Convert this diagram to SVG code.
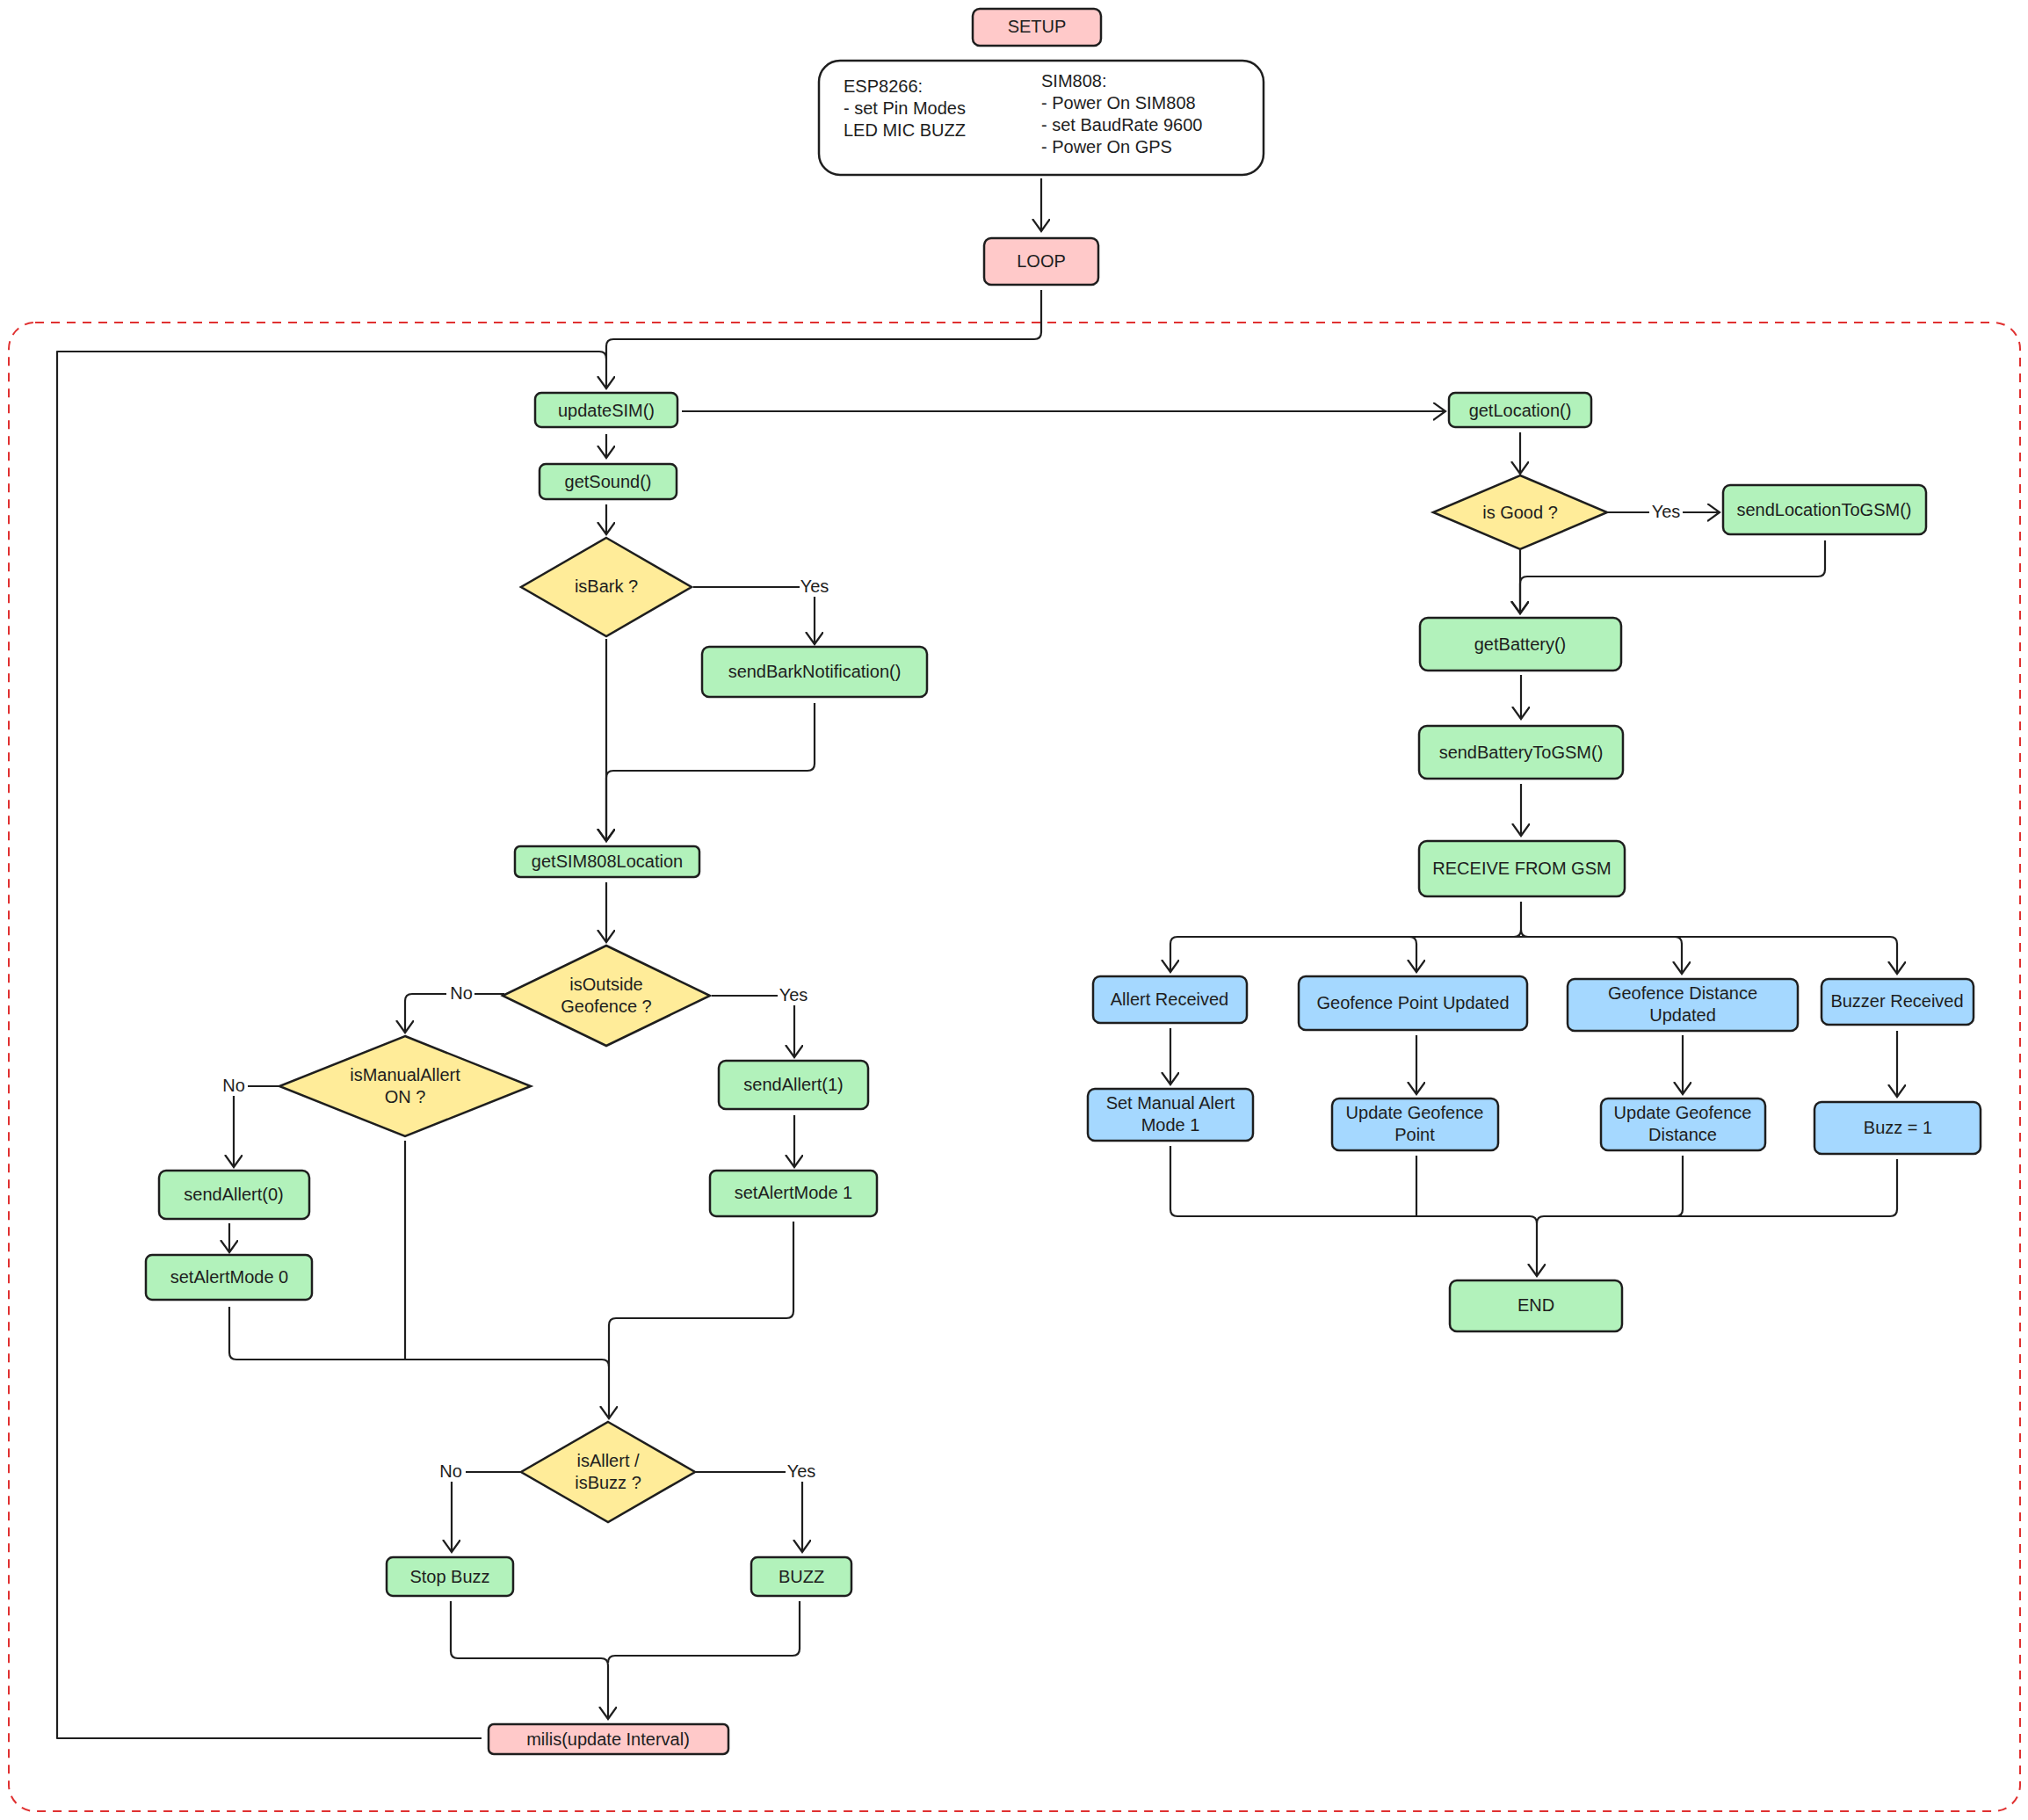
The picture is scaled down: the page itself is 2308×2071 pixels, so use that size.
<svg xmlns="http://www.w3.org/2000/svg" width="2308" height="2071" viewBox="0 0 2308 2071">
<style>
text{font-family:"Liberation Sans",Arial,sans-serif;font-size:20px;fill:#1e1e1e}
.n{stroke:#1e1e1e;stroke-width:2.5}
.pk{fill:#ffc9c9}.gr{fill:#b2f2bb}.yl{fill:#ffec99}.bl{fill:#a5d8ff}.wh{fill:#fff}
.c{fill:none;stroke:#1e1e1e;stroke-width:2.2;stroke-linejoin:round}
.lb{font-size:18px}
</style>
<defs>
<marker id="a" markerUnits="userSpaceOnUse" markerWidth="30" markerHeight="30" refX="14" refY="10" orient="auto">
<path d="M0,0 L14,10 L0,20" fill="none" stroke="#1e1e1e" stroke-width="2.2"/>
</marker>
</defs>
<rect x="10" y="367" width="2289" height="1694" rx="30" fill="none" stroke="#e03131" stroke-width="2" stroke-dasharray="10 8"/>
<g id="connectors">
<path class="c" d="M1185,203 V263" marker-end="url(#a)"/>
<path class="c" d="M1185,330 V378 Q1185,386 1177,386 H698 Q690,386 690,394 V442" marker-end="url(#a)"/>
<path class="c" d="M548,1978 H65 V400 H682 Q690,400 690,408"/>
<path class="c" d="M776,468 H1645" marker-end="url(#a)"/>
<path class="c" d="M690,494 V521" marker-end="url(#a)"/>
<path class="c" d="M690,574 V608" marker-end="url(#a)"/>
<path class="c" d="M789,668 H927 V733" marker-end="url(#a)"/>
<path class="c" d="M927,800 V869 Q927,877 919,877 H698 Q690,877 690,885 V957" marker-end="url(#a)"/>
<path class="c" d="M690,727 V957" marker-end="url(#a)"/>
<path class="c" d="M690,1004 V1072" marker-end="url(#a)"/>
<path class="c" d="M574,1131 H469 Q461,1131 461,1139 V1175" marker-end="url(#a)"/>
<path class="c" d="M810,1133 H904 V1203" marker-end="url(#a)"/>
<path class="c" d="M318,1236 H266 V1328" marker-end="url(#a)"/>
<path class="c" d="M261,1392 V1425" marker-end="url(#a)"/>
<path class="c" d="M904,1269 V1328" marker-end="url(#a)"/>
<path class="c" d="M903,1390 V1492 Q903,1500 895,1500 H701 Q693,1500 693,1508 V1614" marker-end="url(#a)"/>
<path class="c" d="M261,1487 V1539 Q261,1547 269,1547 H685 Q693,1547 693,1555"/>
<path class="c" d="M461,1298 V1547"/>
<path class="c" d="M593,1675 H514 V1766" marker-end="url(#a)"/>
<path class="c" d="M792,1675 H913 V1766" marker-end="url(#a)"/>
<path class="c" d="M513,1822 V1879 Q513,1887 521,1887 H684 Q692,1887 692,1895 V1956" marker-end="url(#a)"/>
<path class="c" d="M910,1822 V1876 Q910,1884 902,1884 H700 Q692,1884 692,1892"/>
<path class="c" d="M1730,492 V539" marker-end="url(#a)"/>
<path class="c" d="M1830,583 H1957" marker-end="url(#a)"/>
<path class="c" d="M2077,615 V648 Q2077,656 2069,656 H1738 Q1730,656 1730,664 V698" marker-end="url(#a)"/>
<path class="c" d="M1730,626 V698" marker-end="url(#a)"/>
<path class="c" d="M1731,768 V818" marker-end="url(#a)"/>
<path class="c" d="M1731,892 V951" marker-end="url(#a)"/>
<path class="c" d="M1731,1026 V1058 Q1731,1066 1723,1066 H1340 Q1332,1066 1332,1074 V1106" marker-end="url(#a)"/>
<path class="c" d="M1731,1058 Q1731,1066 1739,1066 H1604 Q1612,1066 1612,1074 V1106" marker-end="url(#a)"/>
<path class="c" d="M1731,1066 H1906 Q1914,1066 1914,1074 V1108" marker-end="url(#a)"/>
<path class="c" d="M1906,1066 H2151 Q2159,1066 2159,1074 V1108" marker-end="url(#a)"/>
<path class="c" d="M1332,1170 V1234" marker-end="url(#a)"/>
<path class="c" d="M1612,1178 V1245" marker-end="url(#a)"/>
<path class="c" d="M1915,1178 V1245" marker-end="url(#a)"/>
<path class="c" d="M2159,1173 V1248" marker-end="url(#a)"/>
<path class="c" d="M1332,1304 V1376 Q1332,1384 1340,1384 H1741 Q1749,1384 1749,1392 V1452" marker-end="url(#a)"/>
<path class="c" d="M1612,1315 V1384"/>
<path class="c" d="M1915,1315 V1376 Q1915,1384 1907,1384 H1757 Q1749,1384 1749,1392"/>
<path class="c" d="M2159,1319 V1376 Q2159,1384 2151,1384 H1900"/>
<g class="lb" text-anchor="middle">
<rect x="910" y="657" width="34" height="22" fill="#fff"/><text x="927" y="674">Yes</text>
<rect x="508" y="1120" width="32" height="22" fill="#fff"/><text x="525" y="1137">No</text>
<rect x="885" y="1122" width="36" height="22" fill="#fff"/><text x="903" y="1139">Yes</text>
<rect x="250" y="1225" width="32" height="22" fill="#fff"/><text x="266" y="1242">No</text>
<rect x="496" y="1664" width="34" height="22" fill="#fff"/><text x="513" y="1681">No</text>
<rect x="894" y="1664" width="36" height="22" fill="#fff"/><text x="912" y="1681">Yes</text>
<rect x="1877" y="572" width="38" height="22" fill="#fff"/><text x="1896" y="589">Yes</text>
</g>
</g>
<g id="setup"><rect class="n pk" x="1107" y="10" width="146" height="42" rx="8"/><text x="1180" y="37" text-anchor="middle">SETUP</text></g>
<g id="setupbox"><rect class="n wh" x="932" y="69" width="506" height="130" rx="24"/>
<text x="960" y="105">ESP8266:</text><text x="960" y="130">- set Pin Modes</text><text x="960" y="155">LED MIC BUZZ</text>
<text x="1185" y="99">SIM808:</text><text x="1185" y="124">- Power On SIM808</text><text x="1185" y="149">- set BaudRate 9600</text><text x="1185" y="174">- Power On GPS</text></g>
<g id="loop"><rect class="n pk" x="1120" y="271" width="130" height="53" rx="8"/><text x="1185" y="304" text-anchor="middle">LOOP</text></g>
<g text-anchor="middle">
<g id="updateSIM"><rect class="n gr" x="609" y="447" width="162" height="39" rx="7"/><text x="690" y="474">updateSIM()</text></g>
<g id="getSound"><rect class="n gr" x="614" y="528" width="156" height="40" rx="7"/><text x="692" y="555">getSound()</text></g>
<g id="isBark"><path class="n yl" d="M690,612 L787,668 L690,724 L593,668 Z"/><text x="690" y="674">isBark ?</text></g>
<g id="sendBark"><rect class="n gr" x="799" y="736" width="256" height="57" rx="8"/><text x="927" y="771">sendBarkNotification()</text></g>
<g id="getSIM808"><rect class="n gr" x="586" y="963" width="210" height="35" rx="6"/><text x="691" y="987">getSIM808Location</text></g>
<g id="isOutside"><path class="n yl" d="M690,1076 L808,1133 L690,1190 L572,1133 Z"/><text x="690" y="1127">isOutside</text><text x="690" y="1152">Geofence ?</text></g>
<g id="isManual"><path class="n yl" d="M461,1179 L604,1236 L461,1293 L318,1236 Z"/><text x="461" y="1230">isManualAllert</text><text x="461" y="1255">ON ?</text></g>
<g id="sendAllert0"><rect class="n gr" x="181" y="1332" width="171" height="55" rx="8"/><text x="266" y="1366">sendAllert(0)</text></g>
<g id="setAlertMode0"><rect class="n gr" x="166" y="1428" width="189" height="51" rx="7"/><text x="261" y="1460">setAlertMode 0</text></g>
<g id="sendAllert1"><rect class="n gr" x="818" y="1207" width="170" height="55" rx="8"/><text x="903" y="1241">sendAllert(1)</text></g>
<g id="setAlertMode1"><rect class="n gr" x="808" y="1332" width="190" height="52" rx="7"/><text x="903" y="1364">setAlertMode 1</text></g>
<g id="isAllert"><path class="n yl" d="M692,1618 L791,1675 L692,1732 L593,1675 Z"/><text x="692" y="1669">isAllert /</text><text x="692" y="1694">isBuzz ?</text></g>
<g id="stopBuzz"><rect class="n gr" x="440" y="1772" width="144" height="44" rx="7"/><text x="512" y="1801">Stop Buzz</text></g>
<g id="buzz"><rect class="n gr" x="855" y="1772" width="114" height="44" rx="7"/><text x="912" y="1801">BUZZ</text></g>
<g id="milis"><rect class="n pk" x="556" y="1962" width="273" height="34" rx="6"/><text x="692" y="1986">milis(update Interval)</text></g>
<g id="getLocation"><rect class="n gr" x="1649" y="447" width="162" height="39" rx="7"/><text x="1730" y="474">getLocation()</text></g>
<g id="isGood"><path class="n yl" d="M1730,541 L1829,583 L1730,625 L1631,583 Z"/><text x="1730" y="590">is Good ?</text></g>
<g id="sendLocation"><rect class="n gr" x="1961" y="552" width="231" height="56" rx="8"/><text x="2076" y="587">sendLocationToGSM()</text></g>
<g id="getBattery"><rect class="n gr" x="1616" y="703" width="229" height="60" rx="9"/><text x="1730" y="740">getBattery()</text></g>
<g id="sendBattery"><rect class="n gr" x="1615" y="826" width="232" height="60" rx="9"/><text x="1731" y="863">sendBatteryToGSM()</text></g>
<g id="receive"><rect class="n gr" x="1615" y="957" width="234" height="63" rx="9"/><text x="1732" y="995">RECEIVE FROM GSM</text></g>
<g id="allertReceived"><rect class="n bl" x="1244" y="1111" width="175" height="53" rx="8"/><text x="1331" y="1144">Allert Received</text></g>
<g id="geoPoint"><rect class="n bl" x="1478" y="1111" width="260" height="61" rx="8"/><text x="1608" y="1148">Geofence Point Updated</text></g>
<g id="geoDist"><rect class="n bl" x="1784" y="1114" width="262" height="59" rx="8"/><text x="1915" y="1137">Geofence Distance</text><text x="1915" y="1162">Updated</text></g>
<g id="buzzerReceived"><rect class="n bl" x="2073" y="1114" width="173" height="52" rx="8"/><text x="2159" y="1146">Buzzer Received</text></g>
<g id="setManual"><rect class="n bl" x="1238" y="1239" width="188" height="59" rx="8"/><text x="1332" y="1262">Set Manual Alert</text><text x="1332" y="1287">Mode 1</text></g>
<g id="updPoint"><rect class="n bl" x="1516" y="1250" width="189" height="59" rx="8"/><text x="1610" y="1273">Update Geofence</text><text x="1610" y="1298">Point</text></g>
<g id="updDist"><rect class="n bl" x="1822" y="1250" width="187" height="59" rx="8"/><text x="1915" y="1273">Update Geofence</text><text x="1915" y="1298">Distance</text></g>
<g id="buzz1"><rect class="n bl" x="2065" y="1254" width="189" height="59" rx="8"/><text x="2160" y="1290">Buzz = 1</text></g>
<g id="end"><rect class="n gr" x="1650" y="1457" width="196" height="58" rx="8"/><text x="1748" y="1492">END</text></g>
</g>
</svg>
